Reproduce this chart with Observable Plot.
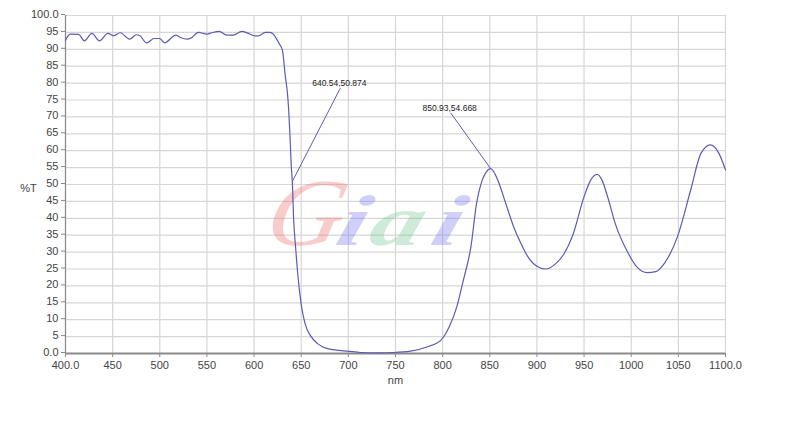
<!DOCTYPE html>
<html>
<head>
<meta charset="utf-8">
<script src="https://cdn.jsdelivr.net/npm/d3@7"></script>
<script src="https://cdn.jsdelivr.net/npm/@observablehq/plot@0.6"></script>
<style>
  html, body { margin: 0; padding: 0; background: #fff; }
  #chart { width: 799px; height: 429px; }
</style>
</head>
<body>
<div id="chart"></div>
<script>
// Wavelength (nm)
const wavelength = [
  400, 405, 414, 420, 428, 436, 445, 451, 458, 468, 475, 479, 486, 494, 500, 505,
  517, 522, 529, 533, 541, 550, 555, 563, 571, 578, 587, 594, 601, 605, 612, 616,
  620, 624, 627, 630, 633, 636, 638, 639.5, 640.54, 642, 644, 646.5, 650, 654, 660,
  667, 677, 690, 699, 713, 730, 748, 766, 784, 798, 807, 815, 822, 830, 836, 842,
  846, 850.93, 854, 858, 862, 866, 870, 876, 883, 890, 900, 909, 920, 929, 938, 950,
  957, 964, 969, 976, 983, 996, 1006, 1017, 1026, 1035, 1049, 1063, 1074, 1084,
  1093, 1100
];
// Transmittance (%T)
const transmittance = [
  92.7, 94.5, 94.4, 92.5, 94.7, 92.5, 94.7, 94.0, 94.9, 93.0, 94.3, 94.0, 91.9, 93.2, 93.2, 91.9,
  94.2, 93.5, 93.0, 93.3, 95.0, 94.5, 94.9, 95.3, 94.2, 94.2, 95.3, 94.7, 94.0, 94.0, 95.0, 95.0,
  94.6, 93.0, 91.5, 89.8, 82.4, 75.0, 65.0, 55.2, 50.874, 39.5, 31.6, 23.0, 14.5, 8.9, 5.2,
  3.0, 1.5, 0.9, 0.7, 0.3, 0.2, 0.3, 0.7, 2.0, 3.9, 7.9, 13.8, 21.7, 31.6, 44.4, 51.3,
  53.6, 54.668, 53.9, 51.6, 48.6, 45.2, 41.8, 37.0, 32.6, 28.8, 25.8, 25.0, 26.6, 29.6, 35.0, 46.4,
  51.3, 53.0, 51.3, 45.4, 38.5, 30.1, 25.6, 23.9, 24.2, 26.6, 34.5, 48.3, 59.2, 61.7,
  59.2, 54.3
];

// Tick values
const xTicks = [400, 450, 500, 550, 600, 650, 700, 750, 800, 850, 900, 950, 1000, 1050, 1100];
const yTicks = d3.range(0, 101, 5);

// Annotations: marked point and label anchor (data units)
const annotX = [640.54, 850.93];
const annotY = [50.874, 54.668];
const annotLabelX = [691.5, 808.5];
const annotLabelY = [78.5, 71.2];
const annotText = ["640.54,50.874", "850.93,54.668"];

const data = wavelength.map((w, i) => ({w, t: transmittance[i]}));
const annots = annotX.map((x, i) => ({x, y: annotY[i], lx: annotLabelX[i], ly: annotLabelY[i], text: annotText[i]}));

const fmtX = d => (d === 400 || d === 1100) ? d.toFixed(1) : String(d);
const fmtY = d => (d === 0 || d === 100) ? d.toFixed(1) : String(d);

const lineColor = "#5b5bb5";

const plot = Plot.plot({
  width: 799,
  height: 429,
  marginLeft: 65,
  marginRight: 74,
  marginTop: 15,
  marginBottom: 76,
  style: {fontFamily: "'Liberation Sans', Arial, sans-serif", fontSize: "11px", background: "#fff", color: "#444"},
  x: {domain: [400, 1100]},
  y: {domain: [0, 100]},
  marks: [
    Plot.gridX(xTicks, {stroke: "#d6d6d6", strokeOpacity: 1, strokeWidth: 1.2}),
    Plot.gridY(yTicks, {stroke: "#d6d6d6", strokeOpacity: 1, strokeWidth: 1.2}),
    Plot.axisX(xTicks, {tickSize: 4, tickPadding: 4, tickFormat: fmtX, label: null, stroke: "#888", fill: "#444"}),
    Plot.axisY(yTicks, {tickSize: 4, tickPadding: 3, tickFormat: fmtY, label: null, stroke: "#888", fill: "#444", dy: -1}),
    Plot.ruleX([400], {stroke: "#8a8a8a", strokeWidth: 1.2}),
    Plot.ruleY([0], {stroke: "#8a8a8a", strokeWidth: 1.8}),
    Plot.text(["nm"], {frameAnchor: "bottom", lineAnchor: "middle", dy: 27, fill: "#444"}),
    Plot.text(["%T"], {frameAnchor: "left", textAnchor: "middle", lineAnchor: "middle", dx: -37, dy: 4, fill: "#444"}),
    Plot.line(data, {x: "w", y: "t", curve: "monotone-x", stroke: lineColor, strokeWidth: 1.2}),
    Plot.link(annots, {x1: "x", y1: "y", x2: "lx", y2: "ly", stroke: lineColor, strokeWidth: 1}),
    Plot.text(annots, {x: "lx", y: "ly", text: "text", dy: -5, dx: -1, fill: "#222", fontSize: 8.5,
      fontFamily: "'Liberation Sans', Arial, sans-serif", letterSpacing: "-0.3px"})
  ]
});

// Watermark "Giai" (drawn behind the curve)
let lineG = plot.querySelector("g[aria-label='line']");
const wm = d3.create("svg:g")
  .attr("font-family", "'Liberation Serif', 'DejaVu Serif', serif")
  .attr("font-style", "italic")
  .attr("text-anchor", "start")
  .attr("pointer-events", "none");
plot.insertBefore(wm.node(), lineG);
const letters = [
  {ch: "G", x: 262, size: 96, sx: 1.1, w: "normal", fill: "rgb(240,120,120)", op: 0.38},
  {ch: "i", x: 333, size: 72, sx: 1.45, w: "bold", fill: "rgb(130,130,240)", op: 0.38},
  {ch: "a", x: 366, size: 72, sx: 1.45, w: "bold", fill: "rgb(110,195,145)", op: 0.34},
  {ch: "i", x: 428, size: 72, sx: 1.45, w: "bold", fill: "rgb(130,130,240)", op: 0.38}
];
letters.forEach(l => {
  wm.append("text")
    .attr("transform", `translate(${l.x},245) scale(${l.sx},1) skewX(-12)`)
    .attr("font-size", l.size)
    .attr("font-weight", l.w)
    .attr("fill", l.fill)
    .attr("fill-opacity", l.op)
    .text(l.ch);
});

document.getElementById("chart").appendChild(plot);
</script>
</body>
</html>
